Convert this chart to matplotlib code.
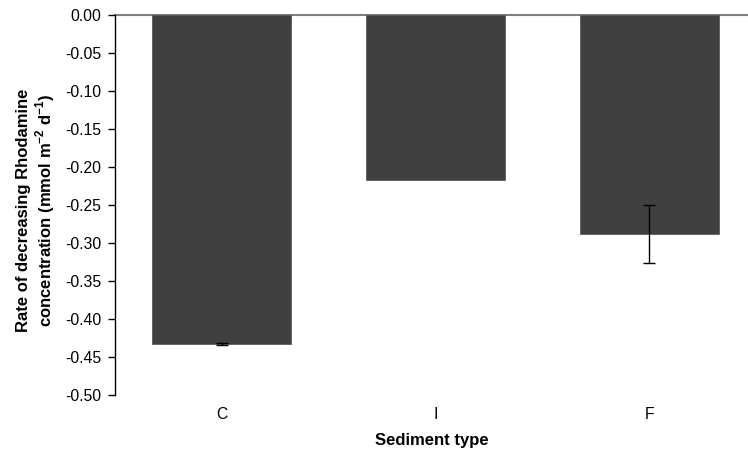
import matplotlib
matplotlib.use("Agg")
import matplotlib.pyplot as plt
import numpy as np

categories = ["C", "I", "F"]
rates = [-0.432, -0.216, -0.288]
errors = [0.001, 0.0, 0.038]
y_ticks = [0.00, -0.05, -0.10, -0.15, -0.20, -0.25, -0.30, -0.35, -0.40, -0.45, -0.50]

plt.rcParams["font.family"] = ["Liberation Sans", "DejaVu Sans"]
plt.rcParams["mathtext.fontset"] = "custom"
plt.rcParams["mathtext.rm"] = "Liberation Sans:bold"
plt.rcParams["mathtext.bf"] = "Liberation Sans:bold"

fig = plt.figure(figsize=(7.48, 4.58), dpi=100)
ax = fig.add_axes([0.1537, 0.1365, 0.8463, 0.8297])

x = np.arange(len(categories))
ax.bar(x, rates, width=0.65, color="#404040", edgecolor="#5a5a5a", linewidth=0.6, zorder=2)

# error bars only where a spread was measured
has_err = [i for i, e in enumerate(errors) if e > 0]
ax.errorbar([x[i] for i in has_err], [rates[i] for i in has_err],
            yerr=[errors[i] for i in has_err], fmt="none", ecolor="black",
            elinewidth=1.0, capsize=4, capthick=1.0, zorder=3)

ax.set_ylim(-0.5, 0.0)
ax.set_xlim(-0.5, 2.4625)
ax.set_yticks(y_ticks)
ax.set_yticklabels([f"{v:.2f}" for v in y_ticks], fontsize=11.3)
ax.set_xticks(x)
ax.set_xticklabels(categories, fontsize=11.3)
ax.tick_params(axis="x", length=0, pad=8)
ax.tick_params(axis="y", direction="out", length=5, width=1, pad=5)

for side in ["top", "right", "bottom"]:
    ax.spines[side].set_visible(False)
ax.spines["left"].set_linewidth(1.0)
ax.axhline(0, color="#808080", linewidth=1.5, clip_on=False, zorder=1)

ax.set_ylabel("Rate of decreasing Rhodamine\nconcentration (mmol m$^{\\mathbf{-2}}$ d$^{\\mathbf{-1}}$)",
              fontsize=12, fontweight="bold", linespacing=1.1)
ax.yaxis.set_label_coords(-0.092, 0.486)
ax.set_xlabel("Sediment type", fontsize=12, fontweight="bold", labelpad=8)

fig.savefig("out.png", dpi=100)
